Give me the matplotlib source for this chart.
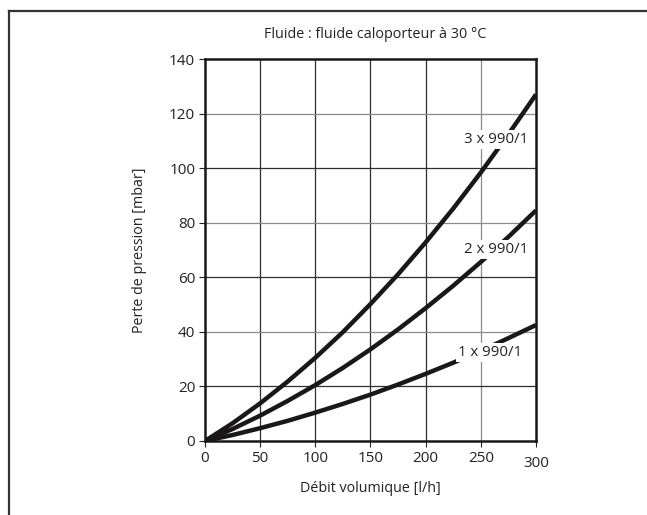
import matplotlib
matplotlib.use("Agg")
import matplotlib.pyplot as plt
from matplotlib.lines import Line2D
from matplotlib.transforms import ScaledTranslation

plt.rcParams['font.family'] = ['Open Sans', 'DejaVu Sans']

# data
debit = [0, 25, 50, 75, 100, 125, 150, 175, 200, 225, 250, 275, 300]
perte_3x = [0, 6.5, 13.8, 21.8, 30.5, 39.9, 50.2, 61.1, 72.8, 85.2, 98.4, 112.4, 127]
perte_2x = [0, 4.4, 9.3, 14.7, 20.5, 26.8, 33.6, 40.9, 48.7, 56.9, 65.6, 74.8, 84.5]
perte_1x = [0, 2.2, 4.7, 7.4, 10.4, 13.6, 17.0, 20.7, 24.6, 28.7, 33.0, 37.7, 42.5]
series_labels = ["3 x 990/1", "2 x 990/1", "1 x 990/1"]
label_pos = [(264, 110.5), (264, 70.2), (258, 32.5)]
x_ticks = [0, 50, 100, 150, 200, 250, 300]
y_ticks = [0, 20, 40, 60, 80, 100, 120, 140]

fig = plt.figure(figsize=(6.47, 5.15), dpi=100)
ax = fig.add_axes([0.3168, 0.1437, 0.5116, 0.7417])

# frame around the figure (open on right / bottom, as in the crop)
fig.add_artist(Line2D([9/647, 1], [1 - 11/515, 1 - 11/515], transform=fig.transFigure,
                      color='#333333', lw=1.6))
fig.add_artist(Line2D([9/647, 9/647], [0, 1 - 11/515], transform=fig.transFigure,
                      color='#333333', lw=1.6))

# grid: some lines print lighter than others
for x in x_ticks[1:-1]:
    ax.axvline(x, color='#8a8a8a' if x == 250 else '#2e2e2e', lw=0.9, zorder=1)
for y in y_ticks[1:-1]:
    ax.axhline(y, color='#8a8a8a' if y in (40, 80, 120) else '#2e2e2e', lw=0.9, zorder=1)

for vals in (perte_3x, perte_2x, perte_1x):
    ax.plot(debit, vals, color='#1a1718', lw=3.2, solid_capstyle='butt',
            solid_joinstyle='round', zorder=3)

for lab, (lx, ly) in zip(series_labels, label_pos):
    ax.text(lx, ly, lab, ha='center', va='center', fontsize=10.8, color='#222222',
            bbox=dict(facecolor='white', edgecolor='none', pad=1.5), zorder=4)

ax.set_xlim(0, 300)
ax.set_ylim(0, 140)
ax.set_xticks(x_ticks)
ax.set_yticks(y_ticks)
ax.tick_params(direction='out', length=4, width=0.8, labelsize=11, colors='#222222', pad=3)
for s in ax.spines.values():
    s.set_linewidth(1.8)
    s.set_color('#1a1718')

# the last x label sits a little lower in the original
lbl = ax.get_xticklabels()[-1]
lbl.set_transform(lbl.get_transform() + ScaledTranslation(0, -4/72, fig.dpi_scale_trans))

ax.set_xlabel("Débit volumique [l/h]", fontsize=10.3, color='#222222', labelpad=7)
ax.set_ylabel("Perte de pression [mbar]", fontsize=10.3, color='#222222', labelpad=16)
ax.set_title("Fluide : fluide caloporteur à 30 °C", fontsize=10.4, color='#222222',
             x=0.515, pad=15)

fig.savefig("out.png", dpi=100)
